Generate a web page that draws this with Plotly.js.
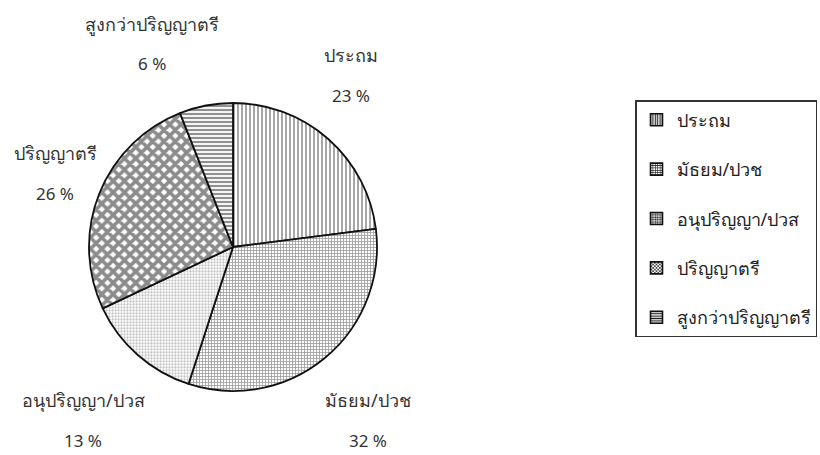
<!DOCTYPE html>
<html>
<head>
<meta charset="utf-8">
<script src="https://cdn.plot.ly/plotly-3.0.1.min.js"></script>
<style>html,body{margin:0;padding:0;background:#fff;}#chart{width:820px;height:455px;}</style>
</head>
<body>
<div id="chart"></div>
<script>
const categories = ["ประถม", "มัธยม/ปวช", "อนุปริญญา/ปวส", "ปริญญาตรี", "สูงกว่าปริญญาตรี"];
const percents = [23, 32, 13, 26, 6];
const shapes = ["|", "+", ".", "x", "-"];
const sizes = [4, 3, 3, 8, 4];
const solidities = [0.4, 0.45, 0.45, 0.7, 0.55];
const fgcolors = ["#222", "#333", "#888", "#1a1a1a", "#222"];

// label anchor positions (pixels, centre of label block)
const labelPos = [[351, 55], [368, 400], [83, 400], [55, 153], [152, 24]];

const W = 820, H = 455;
const FONT = "Noto Sans, DejaVu Sans, sans-serif";
const cx = 233, cy = 247, r = 144;

const pie = {
  type: "pie",
  labels: categories,
  values: percents,
  sort: false,
  direction: "clockwise",
  rotation: 0,
  textinfo: "none",
  hoverinfo: "label+percent",
  showlegend: false,
  domain: {x: [(cx - r) / W, (cx + r) / W], y: [(H - cy - r) / H, (H - cy + r) / H]},
  marker: {
    colors: categories.map(() => "#ffffff"),
    line: {color: "#111", width: 1.8},
    pattern: {shape: shapes, size: sizes, solidity: solidities, fgcolor: fgcolors, bgcolor: "#ffffff", fillmode: "overlay"}
  }
};

const legendTraces = categories.map((c, i) => ({
  type: "bar",
  name: c,
  x: [null],
  y: [null],
  legendgroup: "g" + i,
  showlegend: true,
  hoverinfo: "skip",
  marker: {color: "#ffffff", line: {color: "#111", width: 1.6}, pattern: {shape: shapes[i], size: 3, solidity: 0.5, fgcolor: "#222", bgcolor: "#fff"}}
}));

const annotations = [];
categories.forEach((c, i) => {
  annotations.push({text: c, x: labelPos[i][0] / W, y: 1 - labelPos[i][1] / H, xref: "paper", yref: "paper", showarrow: false, xanchor: "center", yanchor: "middle", font: {family: FONT, size: 18, color: "#333"}});
  annotations.push({text: percents[i] + " %", x: labelPos[i][0] / W, y: 1 - (labelPos[i][1] + 40) / H, xref: "paper", yref: "paper", showarrow: false, xanchor: "center", yanchor: "middle", font: {family: FONT, size: 17, color: "#333"}});
});

const layout = {
  width: W, height: H,
  margin: {l: 0, r: 0, t: 0, b: 0},
  paper_bgcolor: "#ffffff",
  plot_bgcolor: "#ffffff",
  font: {family: FONT, color: "#222"},
  xaxis: {visible: false, domain: [0.98, 0.99]},
  yaxis: {visible: false},
  showlegend: true,
  legend: {
    x: 635 / W, y: 1 - 100 / H, xanchor: "left", yanchor: "top",
    bordercolor: "#333", borderwidth: 1.5, bgcolor: "#fff",
    font: {family: FONT, size: 18, color: "#222"},
    tracegroupgap: 23, traceorder: "grouped", itemwidth: 30
  },
  annotations: annotations
};

Plotly.newPlot("chart", [pie].concat(legendTraces), layout, {displayModeBar: false, staticPlot: true});
</script>
</body>
</html>
